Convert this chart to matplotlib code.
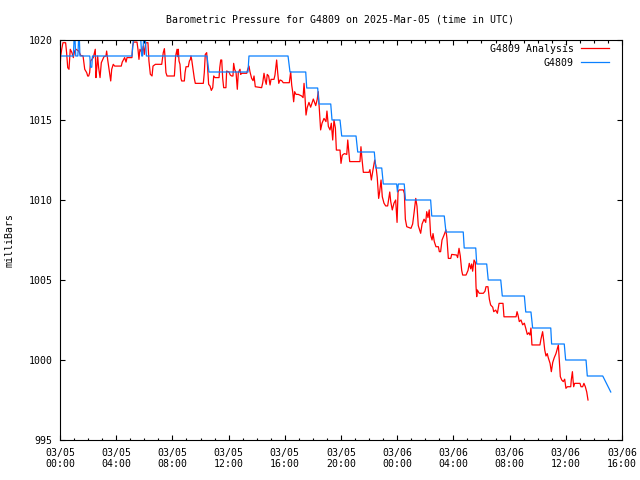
import numpy as np
import pandas as pd
import matplotlib
matplotlib.use("Agg")
import matplotlib.pyplot as plt
import matplotlib.dates as mdates

# hours since 2025-03-05 00:00 UTC
start = pd.Timestamp("2025-03-05 00:00")
end = start + pd.Timedelta(hours=40)

analysis_hours = [
    0.00, 0.05, 0.12, 0.21, 0.40, 0.47, 0.55, 0.64, 0.73, 0.85, 0.95, 1.04, 1.14, 1.33, 1.47, 1.64,
    1.76, 1.90, 1.97, 2.04, 2.11, 2.18, 2.37, 2.51, 2.56, 2.61, 2.68, 2.75, 2.85, 2.94, 3.13, 3.27,
    3.32, 3.39, 3.49, 3.61, 3.68, 3.79, 3.89, 4.36, 4.43, 4.60, 4.70, 4.77, 5.12, 5.17, 5.24, 5.48,
    5.55, 5.62, 5.69, 5.84, 5.93, 6.00, 6.10, 6.26, 6.33, 6.43, 6.55, 6.62, 6.79, 7.24, 7.35, 7.43,
    7.47, 7.54, 7.62, 8.14, 8.23, 8.33, 8.37, 8.42, 8.47, 8.54, 8.61, 8.66, 8.85, 8.90, 8.97, 9.13,
    9.21, 9.28, 9.32, 9.37, 9.47, 9.56, 9.63, 10.20, 10.27, 10.34, 10.44, 10.51, 10.58, 10.68, 10.77, 10.87,
    10.94, 11.03, 11.32, 11.37, 11.44, 11.51, 11.58, 11.65, 11.81, 11.86, 12.03, 12.12, 12.22, 12.31, 12.36, 12.43,
    12.53, 12.62, 12.69, 12.81, 12.86, 12.93, 13.29, 13.36, 13.45, 13.52, 13.64, 13.74, 13.81, 13.90, 14.35, 14.43,
    14.52, 14.61, 14.68, 14.75, 14.85, 14.95, 15.02, 15.23, 15.30, 15.42, 15.49, 15.57, 15.66, 15.78, 15.89, 16.32,
    16.42, 16.49, 16.56, 16.63, 16.70, 16.80, 16.96, 17.20, 17.30, 17.37, 17.44, 17.51, 17.60, 17.72, 17.84, 18.03,
    18.20, 18.31, 18.38, 18.46, 18.55, 18.65, 18.79, 18.93, 19.00, 19.10, 19.22, 19.31, 19.41, 19.50, 19.60, 19.67,
    19.93, 20.00, 20.09, 20.24, 20.41, 20.48, 20.55, 20.62, 21.35, 21.42, 21.49, 21.59, 21.99, 22.06, 22.16, 22.28,
    22.40, 22.49, 22.58, 22.68, 22.75, 22.85, 22.94, 23.06, 23.18, 23.32, 23.40, 23.47, 23.54, 23.65, 23.77, 23.89,
    23.99, 24.06, 24.13, 24.44, 24.51, 24.58, 24.68, 24.98, 25.10, 25.20, 25.32, 25.41, 25.50, 25.67, 25.77, 25.91,
    26.03, 26.10, 26.19, 26.28, 26.38, 26.48, 26.55, 26.64, 26.76, 26.93, 27.00, 27.09, 27.19, 27.33, 27.47, 27.54,
    27.64, 27.81, 27.88, 28.23, 28.30, 28.40, 28.49, 28.59, 28.66, 28.90, 29.04, 29.13, 29.23, 29.30, 29.37, 29.47,
    29.56, 29.61, 29.66, 29.70, 29.84, 30.13, 30.25, 30.32, 30.46, 30.56, 30.65, 30.80, 30.87, 31.01, 31.13, 31.25,
    31.53, 31.60, 32.46, 32.53, 32.60, 32.69, 32.81, 32.93, 33.05, 33.15, 33.26, 33.36, 33.45, 33.52, 33.59, 34.16,
    34.23, 34.35, 34.43, 34.50, 34.59, 34.68, 34.75, 34.88, 34.97, 35.07, 35.18, 35.30, 35.47, 35.54, 35.61, 35.71,
    35.82, 35.92, 36.01, 36.11, 36.35, 36.39, 36.47, 36.51, 36.56, 36.63, 37.01, 37.08, 37.20, 37.29, 37.39, 37.49,
    37.58,
]
analysis_mb = [
    1018.17, 1019.00, 1019.42, 1019.83, 1019.83, 1019.21, 1018.27, 1018.17, 1019.42, 1019.21, 1018.90, 1019.31, 1019.42, 1019.31, 1019.04, 1019.00,
    1018.17, 1017.96, 1017.75, 1017.75, 1017.96, 1018.69, 1018.90, 1019.42, 1017.65, 1018.17, 1019.00, 1018.27, 1017.65, 1018.58, 1018.96, 1019.00,
    1019.31, 1018.79, 1018.17, 1017.44, 1018.17, 1018.48, 1018.37, 1018.37, 1018.62, 1018.90, 1018.62, 1018.90, 1018.90, 1019.62, 1019.87, 1019.87,
    1019.42, 1018.79, 1019.42, 1019.21, 1019.62, 1019.10, 1019.83, 1019.83, 1018.69, 1017.86, 1017.75, 1018.37, 1018.48, 1018.48, 1019.21, 1019.46,
    1019.00, 1017.96, 1017.75, 1017.75, 1019.00, 1019.42, 1018.96, 1019.42, 1018.69, 1018.48, 1017.60, 1017.44, 1017.44, 1017.96, 1018.33, 1018.33,
    1018.69, 1018.79, 1019.00, 1018.79, 1018.17, 1017.60, 1017.29, 1017.29, 1017.96, 1019.10, 1019.21, 1018.27, 1017.23, 1017.12, 1016.85, 1017.02,
    1017.75, 1017.65, 1017.65, 1018.27, 1018.75, 1018.75, 1017.60, 1017.02, 1017.02, 1018.06, 1018.00, 1017.81, 1017.75, 1017.75, 1018.54, 1018.17,
    1017.96, 1016.92, 1017.96, 1018.17, 1017.85, 1017.92, 1017.92, 1018.17, 1018.37, 1018.02, 1017.60, 1017.46, 1017.75, 1017.08, 1017.02, 1017.33,
    1017.92, 1017.46, 1017.23, 1017.85, 1017.75, 1017.19, 1017.54, 1017.54, 1017.81, 1018.75, 1018.00, 1017.29, 1017.50, 1017.46, 1017.33, 1017.33,
    1018.02, 1017.19, 1016.77, 1016.14, 1016.77, 1016.60, 1016.60, 1016.50, 1016.40, 1017.29, 1016.40, 1015.31, 1015.79, 1016.10, 1015.80, 1016.31,
    1015.90, 1016.30, 1016.77, 1015.60, 1014.38, 1014.80, 1015.10, 1014.90, 1015.56, 1014.60, 1014.38, 1014.80, 1013.75, 1015.00, 1014.50, 1013.12,
    1013.12, 1012.29, 1012.80, 1012.90, 1012.85, 1013.75, 1013.10, 1012.40, 1012.40, 1013.33, 1012.60, 1011.73, 1011.73, 1011.90, 1011.25, 1011.90,
    1012.50, 1012.10, 1011.40, 1010.10, 1010.50, 1011.25, 1010.20, 1009.80, 1009.63, 1009.63, 1010.10, 1010.50, 1009.90, 1009.38, 1009.80, 1010.00,
    1008.60, 1010.50, 1010.63, 1010.63, 1010.40, 1008.80, 1008.33, 1008.23, 1008.50, 1009.20, 1010.10, 1009.60, 1008.40, 1007.92, 1008.50, 1008.80,
    1008.60, 1009.27, 1008.90, 1009.38, 1007.80, 1007.50, 1007.90, 1007.40, 1007.08, 1007.08, 1006.77, 1006.77, 1007.50, 1007.80, 1008.13, 1007.60,
    1006.35, 1006.35, 1006.60, 1006.56, 1006.40, 1006.98, 1006.50, 1005.60, 1005.31, 1005.31, 1005.60, 1006.04, 1005.70, 1006.00, 1005.55, 1006.25,
    1006.10, 1004.60, 1003.96, 1004.38, 1004.17, 1004.17, 1004.30, 1004.58, 1004.58, 1003.80, 1003.44, 1003.30, 1003.02, 1003.12, 1002.92, 1003.54,
    1003.54, 1002.70, 1002.70, 1003.02, 1002.80, 1002.40, 1002.50, 1002.20, 1002.30, 1001.98, 1001.60, 1001.70, 1001.56, 1002.00, 1000.94, 1000.94,
    1001.30, 1001.77, 1001.20, 1000.63, 1000.25, 1000.40, 1000.15, 999.79, 999.27, 999.85, 1000.15, 1000.40, 1000.94, 1000.00, 998.96, 998.75,
    998.65, 998.80, 998.23, 998.33, 998.33, 998.75, 999.27, 998.80, 998.33, 998.54, 998.54, 998.33, 998.33, 998.54, 998.33, 998.00,
    997.50,
]

station_hours = [
    0.00, 0.95, 1.00, 1.07, 1.12, 1.27, 1.32, 1.38, 1.42, 2.12, 2.17, 2.26, 2.31, 5.12, 5.22, 5.75,
    5.82, 5.88, 5.95, 6.08, 6.15, 10.46, 10.60, 13.38, 13.45, 16.23, 16.37, 17.49, 17.56, 18.34, 18.43, 19.27,
    19.36, 19.93, 20.05, 21.07, 21.19, 22.37, 22.47, 22.90, 23.01, 23.96, 24.02, 24.08, 24.50, 24.59, 26.38, 26.46,
    27.35, 27.47, 28.70, 28.77, 29.59, 29.66, 30.37, 30.48, 31.37, 31.48, 33.05, 33.15, 33.52, 33.64, 34.93, 34.99,
    35.89, 35.99, 37.44, 37.53, 38.63, 39.20,
]
station_mb = [
    1019, 1019, 1020, 1020, 1019, 1019, 1020, 1020, 1019, 1019, 1018.3, 1018.3, 1019, 1019, 1020, 1020,
    1019, 1019, 1020, 1020, 1019, 1019, 1018, 1018, 1019, 1019, 1018, 1018, 1017, 1017, 1016, 1016,
    1015, 1015, 1014, 1014, 1013, 1013, 1012, 1012, 1011, 1011, 1010.5, 1011, 1011, 1010, 1010, 1009,
    1009, 1008, 1008, 1007, 1007, 1006, 1006, 1005, 1005, 1004, 1004, 1003, 1003, 1002, 1002, 1001,
    1001, 1000, 1000, 999, 999, 998,
]

y_ticks = [995, 1000, 1005, 1010, 1015, 1020]


def to_time(hours):
    return (start + pd.to_timedelta(hours, unit="h")).to_numpy()


plt.rcParams['font.family'] = ['DejaVu Sans Mono']
fs = 7.1

fig = plt.figure(figsize=(6.4, 4.8), dpi=100)
ax = fig.add_axes([60 / 640, 40 / 480, 562 / 640, 400 / 480])

ax.plot(to_time(analysis_hours), analysis_mb, color='#ff0000', lw=0.9, label='G4809 Analysis')
ax.plot(to_time(station_hours), station_mb, color='#0a80ff', lw=0.9, label='G4809')

ax.set_xlim(start.to_numpy(), end.to_numpy())
ax.set_ylim(995, 1020)
ax.set_yticks(y_ticks)
ax.set_yticklabels([str(v) for v in y_ticks], fontsize=fs)

ax.xaxis.set_major_locator(mdates.HourLocator(byhour=range(0, 24, 4)))
ax.xaxis.set_minor_locator(mdates.HourLocator(byhour=range(24)))
ax.xaxis.set_major_formatter(mdates.DateFormatter('%m/%d\n%H:%M'))
for lab in ax.get_xticklabels():
    lab.set_fontsize(fs)

ax.tick_params(which='major', direction='in', top=True, right=True, length=3.6, width=0.8, pad=5.5, labelsize=fs)
ax.tick_params(which='minor', direction='in', top=True, right=False, length=1.8, width=0.8)
for s in ax.spines.values():
    s.set_linewidth(0.8)

fig.text(340 / 640, 1 - 19 / 480, 'Barometric Pressure for G4809 on 2025-Mar-05 (time in UTC)',
         ha='center', va='center', fontsize=fs)
fig.text(10 / 640, 0.5, 'milliBars', rotation=90, ha='center', va='center', fontsize=fs)

# legend: text first, sample line on the right, like gnuplot's key
ax.legend(loc='upper right', bbox_to_anchor=(1 - 5 / 562, 1 + 4 / 400), frameon=False,
          markerfirst=False, fontsize=fs, handlelength=2.9, handletextpad=0.7,
          borderaxespad=0.4, labelspacing=0.4)

fig.savefig('out.png', dpi=100)
